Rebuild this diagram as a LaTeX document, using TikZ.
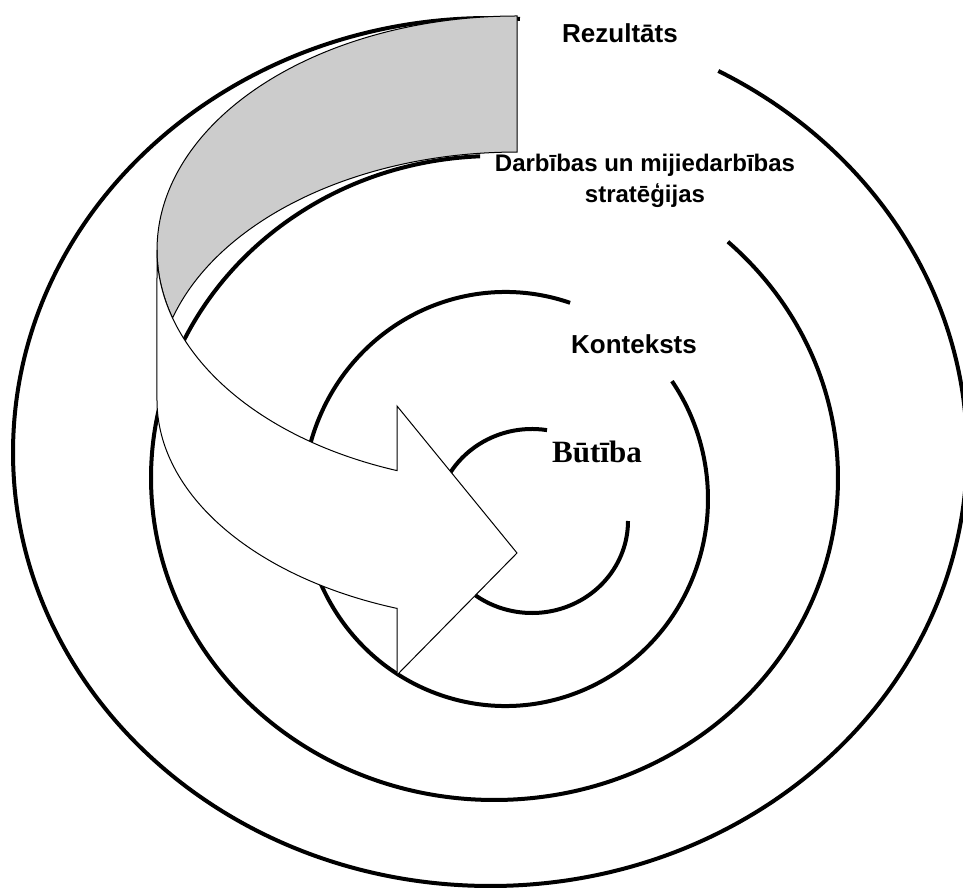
\documentclass[tikz,border=0pt]{standalone}
\usepackage{fontspec}
\setmainfont{Liberation Serif}
\setsansfont{Liberation Sans}
\definecolor{ribbongray}{RGB}{204, 204, 204}
\usetikzlibrary{positioning}

\begin{document}
\begin{tikzpicture}[x=0.5pt, y=0.5pt,
    ring/.style={line width=2pt},
    ribbon/.style={draw, line width=0.5pt},
    ringlabel/.style={font=\sffamily\bfseries\fontsize{13}{15.5}\selectfont, align=center}]
  \useasboundingbox (0,0) rectangle (963,890);
  % open rings, outer to inner
  \draw[ring] (490,438) ++(86.4:477 and 434) arc[start angle=86.4, end angle=421.4, x radius=477, y radius=434];
  \draw[ring] (494.5,412) ++(92.4:343.5 and 322) arc[start angle=92.4, end angle=407.2, x radius=343.5, y radius=322];
  \draw[ring] (505.5,391) ++(71.4:202.5 and 207) arc[start angle=71.4, end angle=394.7, x radius=202.5, y radius=207];
  \draw[ring] (532,369) ++(81:96 and 92) arc[start angle=81, end angle=360, x radius=96, y radius=92];
  % back of the ribbon
  \draw[ribbon, fill=ribbongray] (517,640) ++(90:360 and 234)
      arc[start angle=90, end angle=196.9, x radius=360, y radius=234]
      arc[start angle=163.1, end angle=90, x radius=360, y radius=234] -- cycle;
  % front of the ribbon with the head
  \draw[ribbon, fill=white] (517,640) ++(180:360 and 234)
      arc[start angle=180, end angle=250.53, x radius=360, y radius=234]
      -- (397,484) -- (517,337) -- (397,215) -- (397,281.6)
      arc[start angle=250.53, end angle=180, x radius=360, y radius=221] -- cycle;
  % labels
  \node[ringlabel] (rezultats) at (620,857) {Rezultāts};
  \node[ringlabel, font=\sffamily\bfseries\fontsize{12}{15.5}\selectfont] (darbibas) at (645,709) {Darbības un mijiedarbības\\stratēģijas};
  \node[ringlabel] (konteksts) at (634,546) {Konteksts};
  \node[font=\rmfamily\bfseries\fontsize{15.5}{18}\selectfont] (butiba) at (597,438) {Būtība};
\end{tikzpicture}
\end{document}
